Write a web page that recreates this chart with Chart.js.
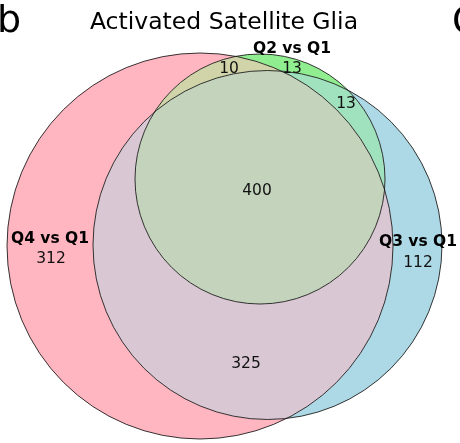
<!DOCTYPE html>
<html>
<head>
<meta charset="utf-8">
<script src="https://cdn.jsdelivr.net/npm/chart.js@4/dist/chart.umd.min.js"></script>
<style>
  html, body { margin: 0; padding: 0; background: #fff; }
  #wrap { position: relative; width: 460px; height: 443px; overflow: hidden; }
  #wrap canvas { position: absolute; left: 0; top: 0; }
  .txt { position: absolute; font-family: "DejaVu Sans", sans-serif; color: #000; line-height: 1.164; white-space: nowrap; }
  #panel { left: -3px; top: -3.3px; font-size: 38px; }
  #panelNext { left: 452px; top: -2.3px; font-size: 38px; }
  #title { left: 0; width: 448px; text-align: center; top: 8.2px; font-size: 23.5px; }
</style>
</head>
<body>
<div id="wrap">
  <canvas id="venn" width="460" height="443"></canvas>
  <div class="txt" id="panel">b</div>
  <div class="txt" id="title">Activated Satellite Glia</div>
  <div class="txt" id="panelNext">C</div>
</div>
<script>
// Sets compared against Q1 (order: Q4, Q2, Q3)
const setNames = ['Q4 vs Q1', 'Q2 vs Q1', 'Q3 vs Q1'];
// Region membership keys (Q4, Q2, Q3) and gene counts per region
const regionKeys = ['100', '010', '001', '110', '101', '011', '111'];
const regionCounts = [312, 13, 112, 10, 325, 13, 400];

// Circle layout in plot units (centre x, centre y, radius)
const circleLayout = [
  [200, 246, 193],
  [260, 179, 125],
  [267.5, 245, 174.5]
];
const setColors = ['#ffb6c1', '#90ee90', '#add8e6'];
const regionColors = {
  '100': '#ffb6c1', '010': '#90ee90', '001': '#add8e6',
  '110': '#d0d4a8', '101': '#d9c7d3', '011': '#a0e1be', '111': '#c4d3bb'
};
// Label anchor points (text baseline) in plot units
const regionLabelPos = {
  '100': [51, 263], '010': [292, 73], '001': [418, 267],
  '110': [229, 73], '101': [246, 368], '011': [346, 108], '111': [257, 195]
};
const setLabelPos = [[50, 243], [292, 53], [418, 246]];

const FONT = '"DejaVu Sans", sans-serif';

function circlePx(chart, i) {
  const xs = chart.scales.x, ys = chart.scales.y;
  const [cx, cy, r] = circleLayout[i];
  return {
    x: xs.getPixelForValue(cx),
    y: ys.getPixelForValue(cy),
    r: Math.abs(xs.getPixelForValue(r) - xs.getPixelForValue(0))
  };
}

// Fills each Venn region with its own colour
const regionFill = {
  id: 'regionFill',
  beforeDatasetsDraw(chart) {
    const ctx = chart.ctx;
    const W = chart.width, H = chart.height;
    regionKeys.forEach(key => {
      ctx.save();
      for (let i = 0; i < 3; i++) {
        const c = circlePx(chart, i);
        ctx.beginPath();
        if (key[i] === '1') {
          ctx.arc(c.x, c.y, c.r, 0, Math.PI * 2);
          ctx.clip();
        } else {
          ctx.rect(-10, -10, W + 20, H + 20);
          ctx.arc(c.x, c.y, c.r, 0, Math.PI * 2, true);
          ctx.clip('evenodd');
        }
      }
      ctx.fillStyle = regionColors[key];
      ctx.fillRect(0, 0, W, H);
      ctx.restore();
    });
  }
};

// Set names and region counts
const vennLabels = {
  id: 'vennLabels',
  afterDatasetsDraw(chart) {
    const ctx = chart.ctx;
    const xs = chart.scales.x, ys = chart.scales.y;
    ctx.save();
    ctx.textAlign = 'center';
    ctx.textBaseline = 'alphabetic';
    ctx.fillStyle = '#000';
    ctx.font = 'bold 15.5px ' + FONT;
    setNames.forEach((name, i) => {
      const [x, y] = setLabelPos[i];
      ctx.fillText(name, xs.getPixelForValue(x), ys.getPixelForValue(y));
    });
    ctx.font = '15.5px ' + FONT;
    ctx.fillStyle = '#111';
    regionKeys.forEach((key, i) => {
      const [x, y] = regionLabelPos[key];
      ctx.fillText(String(regionCounts[i]), xs.getPixelForValue(x), ys.getPixelForValue(y));
    });
    ctx.restore();
  }
};

const datasets = setNames.map((name, i) => ({
  label: name,
  data: [{ x: circleLayout[i][0], y: circleLayout[i][1] }],
  backgroundColor: 'rgba(0,0,0,0)',
  borderColor: 'rgba(20,20,20,0.85)',
  borderWidth: 1,
  pointRadius: (ctx) => circlePx(ctx.chart, i).r,
  pointHoverRadius: (ctx) => circlePx(ctx.chart, i).r,
  clip: false
}));

new Chart(document.getElementById('venn'), {
  type: 'scatter',
  data: { datasets },
  options: {
    responsive: false,
    animation: false,
    events: [],
    layout: { padding: 0 },
    plugins: { legend: { display: false }, tooltip: { enabled: false }, title: { display: false } },
    scales: {
      x: { type: 'linear', min: 0, max: 460, display: false },
      y: { type: 'linear', min: 0, max: 443, reverse: true, display: false }
    }
  },
  plugins: [regionFill, vennLabels]
});
</script>
</body>
</html>
